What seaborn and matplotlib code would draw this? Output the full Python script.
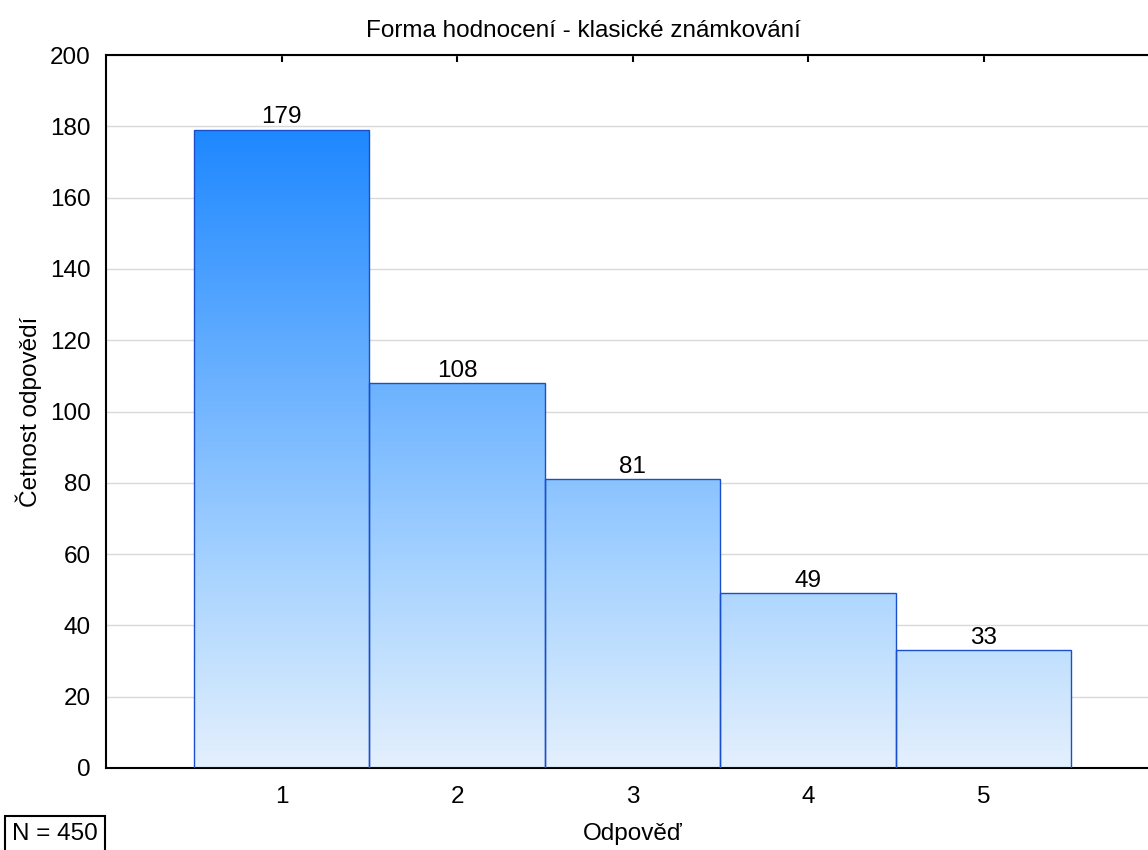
import numpy as np
import pandas as pd
import matplotlib
matplotlib.use("Agg")
import matplotlib.pyplot as plt
from matplotlib.colors import LinearSegmentedColormap
import seaborn as sns

# Data: frequency of answers for the grading form
answers = ["1", "2", "3", "4", "5"]
counts = [179, 108, 81, 49, 33]
title = "Forma hodnocení - klasické známkování"
x_label = "Odpověď"
y_label = "Četnost odpovědí"

sns.set_theme(style="white")
plt.rcParams["font.family"] = ["Liberation Sans", "DejaVu Sans"]
plt.rcParams["text.color"] = "black"
plt.rcParams["axes.labelcolor"] = "black"
plt.rcParams["xtick.color"] = "black"
plt.rcParams["ytick.color"] = "black"

FS = 17.5

df = pd.DataFrame({"answer": answers, "count": counts})

fig = plt.figure(figsize=(11.48, 8.5), dpi=100)
ax = fig.add_axes([106 / 1148, (850 - 768) / 850, (1159 - 106) / 1148, (768 - 55) / 850])

sns.barplot(data=df, x="answer", y="count", order=answers, width=1.0,
            color="#5aa8ff", edgecolor="#1a4fcc", linewidth=1.0, ax=ax, zorder=3)

ax.set_xlim(-1, 5)
ax.set_ylim(0, 200)
ax.set_yticks(np.arange(0, 201, 20))

# Vertical gradient shared by all bars (dark at the tallest value, pale at zero)
grad_cmap = LinearSegmentedColormap.from_list(
    "bluegrad",
    [(0.0, "#e4f0fd"), (0.3, "#a9d4ff"), (0.6, "#6cb2ff"), (1.0, "#1e88ff")],
)
ymax = max(counts)
grad = np.linspace(0, 1, 256).reshape(-1, 1)
for patch in ax.patches:
    x0 = patch.get_x()
    w = patch.get_width()
    img = ax.imshow(grad, cmap=grad_cmap, origin="lower", aspect="auto",
                    extent=(x0, x0 + w, 0, ymax), zorder=2, interpolation="bicubic")
    img.set_clip_path(patch)
    patch.set_facecolor("none")
ax.set_xlim(-1, 5)
ax.set_ylim(0, 200)

for cont in ax.containers:
    ax.bar_label(cont, labels=[str(c) for c in counts], padding=1, fontsize=FS, color="black")

# Grid and frame
ax.yaxis.grid(True, color="#d9d9d9", linewidth=1.0, zorder=0)
ax.xaxis.grid(False)
ax.set_axisbelow(True)
for side in ["left", "top", "bottom"]:
    ax.spines[side].set_visible(True)
    ax.spines[side].set_color("black")
    ax.spines[side].set_linewidth(1.5)
ax.spines["right"].set_visible(False)

ax.tick_params(axis="x", which="both", direction="in", top=True, bottom=True,
               length=5, width=1.5, color="black", labelsize=FS, pad=13, labelcolor="black")
ax.tick_params(axis="y", which="both", left=False, right=False, labelsize=FS, pad=5,
               labelcolor="black")

ax.set_xlabel(x_label, fontsize=FS, labelpad=11, color="black")
ax.set_ylabel(y_label, fontsize=FS, labelpad=6, color="black")
fig.text(583 / 1148, (850 - 31) / 850, title, fontsize=FS, ha="center", va="center",
         color="black")

fig.text(12 / 1148, 16 / 850, f"N = {sum(counts)}", fontsize=FS, ha="left", va="center",
         color="black",
         bbox=dict(boxstyle="square,pad=0.3", facecolor="white", edgecolor="black", linewidth=1.5))

fig.savefig("out.png", dpi=100)
